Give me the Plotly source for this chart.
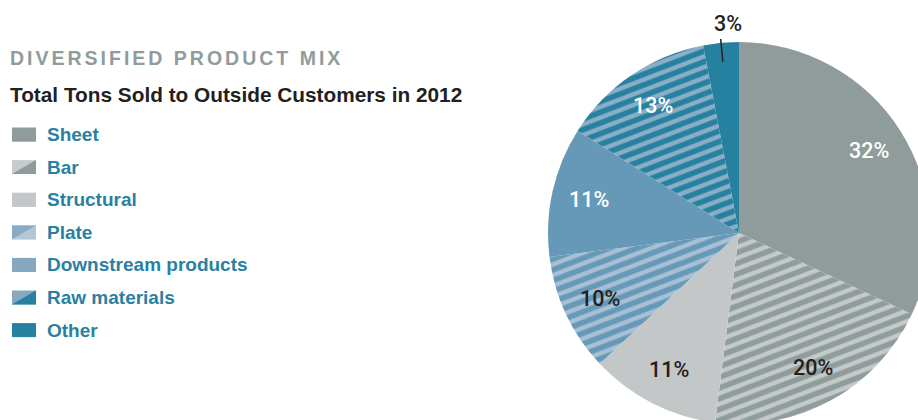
import math
import plotly.graph_objects as go

# ---- data -------------------------------------------------------------
categories = ["Sheet", "Bar", "Structural", "Plate",
              "Downstream products", "Raw materials", "Other"]
shares = [32, 20, 11, 10, 11, 13, 3]

# ---- styling ----------------------------------------------------------
slice_colors = ["#8f9c9b", "#8f9c9b", "#c3c7c8", "#6699b8",
                "#6699b8", "#2680a0", "#2680a0"]
stripe_colors = ["#8f9c9b", "#c4c9ca", "#c3c7c8", "#a7c0d4",
                 "#6699b8", "#8aaec6", "#2680a0"]
stripe_shapes = ["", "-", "", "-", "", "-", ""]
label_colors = ["#ffffff", "#231f20", "#231f20", "#231f20",
                "#ffffff", "#ffffff", "#231f20"]
# legend keys: lower-right triangle / upper-left triangle
key_main = ["#8f9c9b", "#8f9c9b", "#c3c7c8", "#b3c6d7",
            "#86a7c0", "#2680a0", "#2680a0"]
key_alt = ["#8f9c9b", "#c8cbcb", "#c3c7c8", "#88aac4",
           "#86a7c0", "#86a8c1", "#2680a0"]

W, H = 940, 430
CX, CY, R = 739, 233, 191          # pie centre / radius in pixels

TEAL = "#2a80a1"
GREY = "#8f9c9b"
INK = "#231f20"
FONT = "Liberation Sans, Arial, sans-serif"
LABEL_FONT = "Roboto, Liberation Sans, sans-serif"


def px(x):
    return x / W


def py(y):
    return 1 - y / H


fig = go.Figure(go.Pie(
    labels=categories,
    values=shares,
    sort=False,
    direction="clockwise",
    rotation=0,
    textinfo="none",
    marker=dict(
        colors=slice_colors,
        line=dict(width=0),
        pattern=dict(shape=stripe_shapes, fgcolor=stripe_colors,
                     bgcolor=slice_colors, size=10, solidity=0.45,
                     fillmode="replace"),
    ),
    domain=dict(x=[px(CX - R), px(CX + R)], y=[py(CY + R), py(CY - R)]),
    hoverinfo="label+percent",
    showlegend=False,
))

# percentage labels on each slice's mid-angle
total = sum(shares)
cum = 0
for i, v in enumerate(shares):
    mid = 2 * math.pi * (cum + v / 2) / total
    cum += v
    label_font = dict(family=LABEL_FONT, size=21.5, color=label_colors[i],
                      weight=500)
    if i < len(shares) - 1:
        rr = 0.805 * R
        fig.add_annotation(
            text=f"{v}%", xref="paper", yref="paper",
            x=px(CX + rr * math.sin(mid)), y=py(CY - rr * math.cos(mid)),
            xanchor="center", yanchor="middle", showarrow=False,
            font=label_font)
    else:
        # small slice: label outside with a short leader tick
        r0, r1 = 0.90 * R, 1.02 * R
        fig.add_shape(type="line", xref="paper", yref="paper",
                      x0=px(CX + r0 * math.sin(mid)),
                      y0=py(CY - r0 * math.cos(mid)),
                      x1=px(CX + r1 * math.sin(mid)),
                      y1=py(CY - r1 * math.cos(mid)),
                      line=dict(color=INK, width=1.5))
        fig.add_annotation(
            text=f"{v}%", xref="paper", yref="paper",
            x=px(CX + r1 * math.sin(mid)), y=py(CY - r1 * math.cos(mid)),
            xanchor="center", yanchor="bottom", xshift=7, yshift=1,
            showarrow=False, font=label_font)

# headings
fig.add_annotation(text="DIVERSIFIED PRODUCT MIX", xref="paper", yref="paper",
                   x=px(8), y=py(58), xanchor="left", yanchor="middle",
                   showarrow=False,
                   font=dict(family=FONT, size=19.5, color=GREY, weight=700))
fig.add_annotation(text="Total Tons Sold to Outside Customers in 2012",
                   xref="paper", yref="paper",
                   x=px(8), y=py(94), xanchor="left", yanchor="middle",
                   showarrow=False,
                   font=dict(family=FONT, size=20.8, color=INK, weight=700))

# legend: split keys plus names
KEY_X0, KEY_X1, KEY_H = 12, 36, 14
ROW0, ROW_STEP = 134.5, 32.6
for i, name in enumerate(categories):
    yc = ROW0 + i * ROW_STEP
    top, bot = yc - KEY_H / 2, yc + KEY_H / 2
    fig.add_shape(type="rect", xref="paper", yref="paper",
                  x0=px(KEY_X0), x1=px(KEY_X1), y0=py(bot), y1=py(top),
                  fillcolor=key_alt[i], line=dict(width=0))
    fig.add_shape(type="path", xref="paper", yref="paper",
                  path=(f"M {px(KEY_X0)} {py(bot)} L {px(KEY_X1)} {py(bot)} "
                        f"L {px(KEY_X1)} {py(top)} Z"),
                  fillcolor=key_main[i], line=dict(width=0))
    fig.add_annotation(text=name, xref="paper", yref="paper",
                       x=px(45), y=py(yc), xanchor="left", yanchor="middle",
                       showarrow=False,
                       font=dict(family=FONT, size=19, color=TEAL,
                                 weight=700))

fig.update_layout(
    width=W, height=H,
    margin=dict(l=0, r=0, t=0, b=0),
    paper_bgcolor="white",
    plot_bgcolor="white",
    showlegend=False,
)

post = """
document.documentElement.style.overflow = 'hidden';
document.body.style.overflow = 'hidden';
document.body.style.margin = '0';
var gd = document.getElementById('{plot_id}');
gd.querySelectorAll('pattern').forEach(function (p) {
    p.setAttribute('patternTransform', 'rotate(-21)');
});
gd.querySelectorAll('text.annotation-text').forEach(function (t) {
    if (t.textContent.indexOf('DIVERSIFIED') === 0) {
        var b = t.getBBox();
        t.style.letterSpacing = '3px';
        t.setAttribute('text-anchor', 'start');
        t.setAttribute('x', b.x);
    }
});
"""

fig.write_html("out.html", post_script=post)
